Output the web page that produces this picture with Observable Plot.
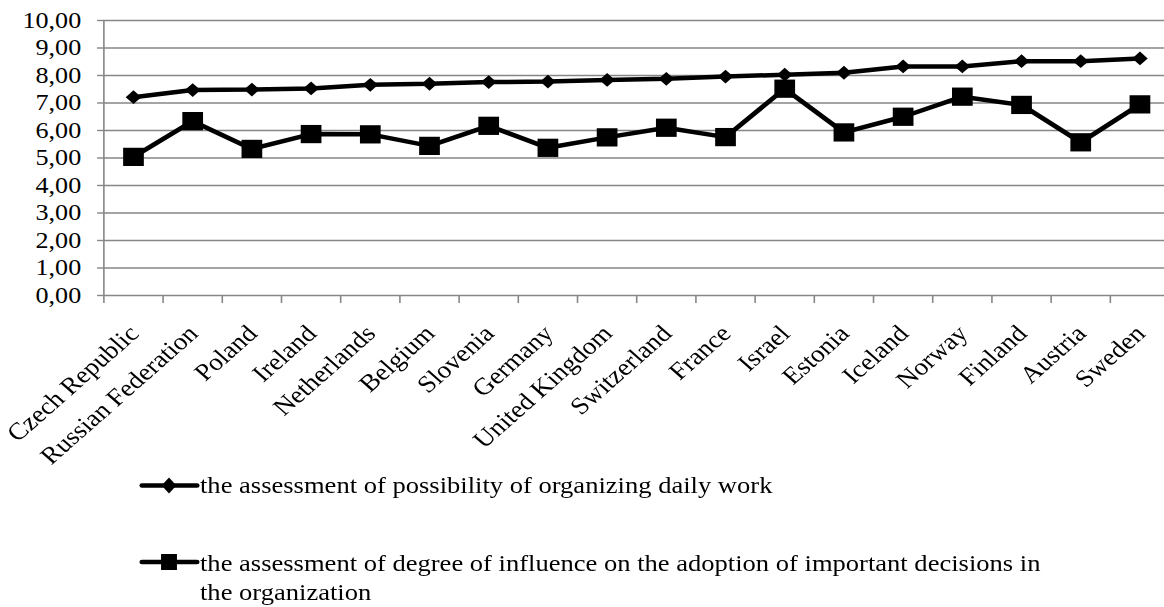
<!DOCTYPE html>
<html>
<head>
<meta charset="utf-8">
<script src="https://cdn.jsdelivr.net/npm/d3@7"></script>
<script src="https://cdn.jsdelivr.net/npm/@observablehq/plot@0.6"></script>
<style>
  html, body { margin: 0; padding: 0; background: #fff; overflow: hidden; }
  #wrap { position: relative; height: 607px; font-family: "Liberation Serif", "Times New Roman", serif; color: #000; transform-origin: 0 0; }
  #chart svg { display: block; }
  .leg { position: absolute; left: 0; top: 0; }
  .legtext { position: absolute; font-size: 23.4px; line-height: 29px; white-space: nowrap; }
</style>
</head>
<body>
<div id="wrap">
  <div id="chart"></div>
</div>
<script>
// ---- data ----
const countries = ["Czech Republic", "Russian Federation", "Poland", "Ireland", "Netherlands", "Belgium",
  "Slovenia", "Germany", "United Kingdom", "Switzerland", "France", "Israel", "Estonia", "Iceland",
  "Norway", "Finland", "Austria", "Sweden"];
const dailyWork = [7.21, 7.47, 7.49, 7.53, 7.66, 7.70, 7.76, 7.78, 7.84, 7.88, 7.96, 8.03, 8.10, 8.33, 8.33, 8.52, 8.52, 8.62];
const influence = [5.04, 6.34, 5.33, 5.87, 5.86, 5.44, 6.17, 5.37, 5.75, 6.10, 5.76, 7.52, 5.93, 6.50, 7.23, 6.93, 5.57, 6.95];
const yTicks = [0, 1, 2, 3, 4, 5, 6, 7, 8, 9, 10];
const seriesNames = [
  "the assessment of possibility of organizing daily work",
  "the assessment of degree of influence on the adoption of important decisions in the organization"
];

const rowsA = countries.map((c, i) => ({country: c, pos: i + 0.5, value: dailyWork[i], series: seriesNames[0]}));
const rowsB = countries.map((c, i) => ({country: c, pos: i + 0.5, value: influence[i], series: seriesNames[1]}));
const boundaries = d3.range(0, countries.length + 1);
const centers = countries.map((c, i) => i + 0.5);

// The reference is drawn horizontally stretched; lay out at a narrower width and stretch.
const K = 1.135;
const W = 1164 / K;
const H = 455;
const gray = "#868686";
const fam = "'Liberation Serif', 'Times New Roman', serif";
const wrapEl = document.getElementById("wrap");
wrapEl.style.width = W + "px";
wrapEl.style.transform = `scaleX(${K})`;

const chart = Plot.plot({
  width: W,
  height: H,
  marginTop: 20,
  marginBottom: H - 295,
  marginLeft: 103.3 / K,
  marginRight: 0,
  style: {fontFamily: fam, fontSize: "23px", color: "#000", background: "#fff", overflow: "visible"},
  x: {domain: [0, countries.length], range: [103.3 / K, 1169 / K], axis: null, label: null},
  y: {domain: [0, 10], axis: null, label: null},
  marks: [
    Plot.gridY(yTicks, {stroke: gray, strokeOpacity: 1, strokeWidth: 1.4}),
    Plot.ruleX([0], {y1: 0, y2: 10, stroke: gray, strokeWidth: 1.4}),
    Plot.axisY(yTicks, {tickSize: 5.5, tickPadding: 14.5, stroke: gray, strokeWidth: 1.4, fill: "#000", label: null,
      tickFormat: d => d.toFixed(2).replace(".", ","), fontSize: 23, fontFamily: fam}),
    Plot.axisX(boundaries, {tickSize: 8, stroke: gray, strokeWidth: 1.4, tickFormat: () => "", label: null}),
    Plot.axisX(centers, {tickSize: 0, tickPadding: 34, dx: 0.5, tickRotate: -45, fill: "#000", fontSize: 24, label: null,
      fontFamily: fam, tickFormat: d => countries[Math.floor(d)]}),
    Plot.line(rowsA, {x: "pos", y: "value", stroke: "#000", strokeWidth: 4.5, strokeLinejoin: "miter"}),
    Plot.line(rowsB, {x: "pos", y: "value", stroke: "#000", strokeWidth: 4.5, strokeLinejoin: "miter"}),
    Plot.dot(rowsA, {x: "pos", y: "value", symbol: "diamond2", r: 6.2, fill: "#000", stroke: "none"}),
    Plot.dot(rowsB, {x: "pos", y: "value", symbol: "square", r: 10.3, fill: "#000", stroke: "none"})
  ]
});
document.getElementById("chart").appendChild(chart);

// ---- legend (below the SVG) ----
const ns = "http://www.w3.org/2000/svg";
const leg = document.createElementNS(ns, "svg");
leg.setAttribute("class", "leg");
leg.setAttribute("width", W);
leg.setAttribute("height", 607);
leg.style.pointerEvents = "none";
const lx1 = 142 / K, lx2 = 197 / K, lc = 169 / K;
leg.innerHTML = `
  <line x1="${lx1}" x2="${lx2}" y1="485.5" y2="485.5" stroke="#000" stroke-width="4.5" stroke-linecap="round"/>
  <path d="M${lc},477.5 L${lc + 6.5},485.5 L${lc},493.5 L${lc - 6.5},485.5 Z" fill="#000"/>
  <line x1="${lx1}" x2="${lx2}" y1="562" y2="562" stroke="#000" stroke-width="4.5" stroke-linecap="round"/>
  <rect x="${lc - 7}" y="554" width="14" height="16" fill="#000"/>`;
wrapEl.appendChild(leg);

const asc = 23.4 * 0.891, half = (29 - 23.4 * 1.107) / 2;
const t1 = document.createElement("div");
t1.className = "legtext";
t1.style.left = (200 / K) + "px";
t1.style.top = (493 - asc - half) + "px";
t1.textContent = seriesNames[0];
wrapEl.appendChild(t1);

const t2 = document.createElement("div");
t2.className = "legtext";
t2.style.left = (200 / K) + "px";
t2.style.top = (571.5 - asc - half) + "px";
t2.innerHTML = "the assessment of degree of influence on the adoption of important decisions in<br>the organization";
wrapEl.appendChild(t2);
</script>
</body>
</html>
